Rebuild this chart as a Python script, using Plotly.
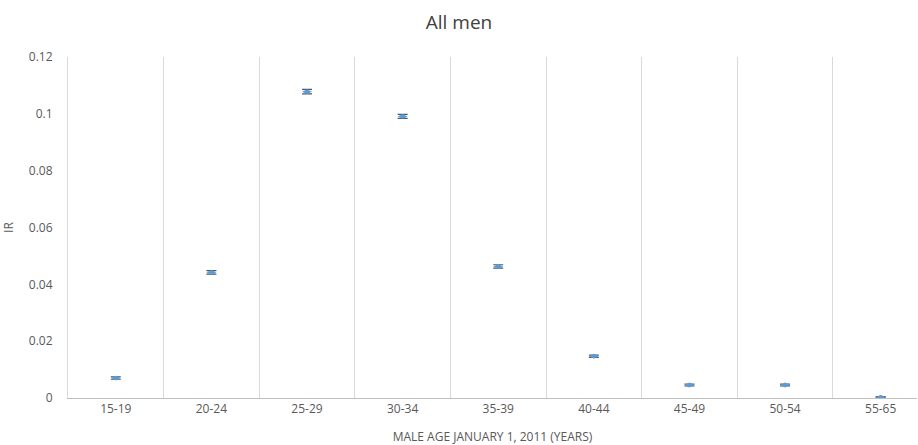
import plotly.graph_objects as go

categories = ["15-19", "20-24", "25-29", "30-34", "35-39", "40-44", "45-49", "50-54", "55-65"]
ir_values = [0.0070, 0.0442, 0.1078, 0.0991, 0.0463, 0.0147, 0.0046, 0.0046, 0.0003]
ir_errors = [0.0004, 0.0006, 0.0008, 0.0007, 0.0006, 0.0004, 0.0003, 0.0003, 0.0002]
y_ticks = [0, 0.02, 0.04, 0.06, 0.08, 0.1, 0.12]
y_ticklabels = ["0", "0.02", "0.04", "0.06", "0.08", "0.1", "0.12"]

fig = go.Figure(go.Scatter(
    x=categories, y=ir_values, mode="markers",
    marker=dict(symbol="diamond-wide", size=7, color="#5B9BD5"),
    error_y=dict(type="data", array=ir_errors, visible=True, color="#4a5a6a", thickness=1.2, width=5),
))

font = "Open Sans, Liberation Sans, sans-serif"
fig.update_layout(
    width=918, height=445,
    margin=dict(l=68, r=1, t=57, b=47),
    paper_bgcolor="white", plot_bgcolor="white",
    showlegend=False,
    title=dict(text="All men", x=0.5, xanchor="center", y=0.95, yanchor="middle",
               font=dict(family=font, size=19, color="#404040")),
    font=dict(family=font, size=12, color="#595959"),
    xaxis=dict(
        type="category", range=[-0.5, 8.38], tickson="boundaries",
        showgrid=True, gridcolor="#d9d9d9", gridwidth=1,
        showline=True, linecolor="#bfbfbf", linewidth=1,
        ticks="", tickfont=dict(size=12, color="#595959"),
        title=dict(text="MALE AGE JANUARY 1, 2011 (YEARS)", standoff=16,
                   font=dict(size=12, color="#595959")),
    ),
    yaxis=dict(
        range=[0, 0.12], tickvals=y_ticks, ticktext=y_ticklabels,
        showgrid=False, zeroline=False, showline=True, linecolor="#d9d9d9", linewidth=1,
        ticks="", ticklabelstandoff=12,
        tickfont=dict(size=12, color="#595959"),
        title=dict(text="IR", standoff=18, font=dict(size=12, color="#595959")),
    ),
)

fig.write_html("out.html")
